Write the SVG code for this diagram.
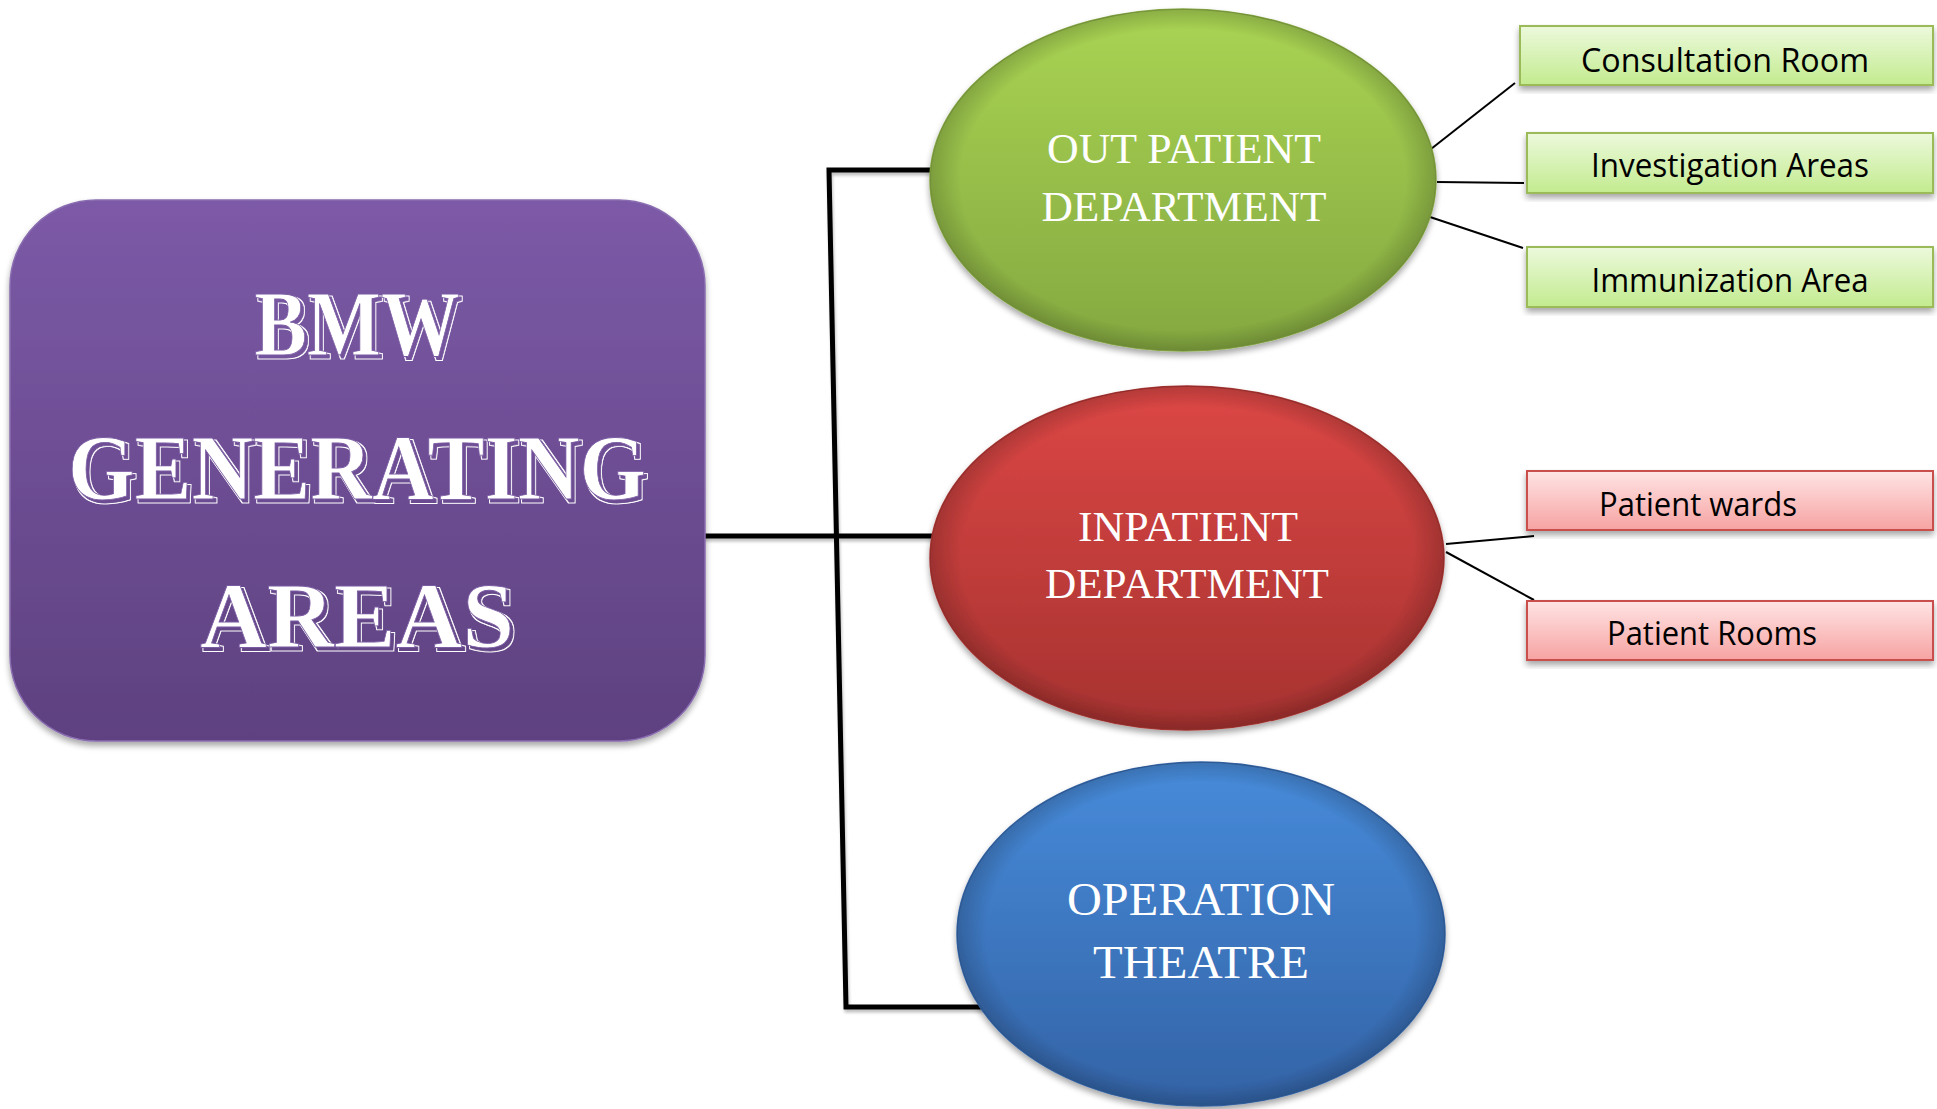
<svg xmlns="http://www.w3.org/2000/svg" width="1937" height="1109" viewBox="0 0 1937 1109">
<style>
.title{font-family:"Liberation Serif","DejaVu Serif",serif;font-size:94px;font-weight:bold;fill:#ffffff;stroke:#7a5aa3;stroke-width:0.8;text-anchor:middle}
.dept{font-family:"Liberation Serif","Times New Roman",serif;fill:#ffffff;text-anchor:middle}
.sub{font-family:"Open Sans","Noto Sans","Liberation Sans",sans-serif;font-size:32px;fill:#000000}
.trunk{stroke:#000;stroke-width:5;fill:none;stroke-linecap:square}
.twig{stroke:#000;stroke-width:2;fill:none}
.gbox{fill:url(#gBox);stroke:#9bbb59;stroke-width:2}
.rbox{fill:url(#rBox);stroke:#c9504d;stroke-width:2}
</style>
<defs>
<linearGradient id="purple" x1="0" y1="0" x2="0" y2="1">
<stop offset="0" stop-color="#7c5aa7"/><stop offset="1" stop-color="#5e4180"/>
</linearGradient>
<linearGradient id="green" x1="0" y1="0" x2="0" y2="1">
<stop offset="0" stop-color="#a9d453"/><stop offset="1" stop-color="#84a840"/>
</linearGradient>
<linearGradient id="red" x1="0" y1="0" x2="0" y2="1">
<stop offset="0" stop-color="#dc4745"/><stop offset="1" stop-color="#a63230"/>
</linearGradient>
<linearGradient id="blue" x1="0" y1="0" x2="0" y2="1">
<stop offset="0" stop-color="#478bda"/><stop offset="1" stop-color="#3363a6"/>
</linearGradient>
<radialGradient id="rim" cx="0.5" cy="0.5" r="0.5">
<stop offset="0.88" stop-color="#000" stop-opacity="0"/>
<stop offset="1" stop-color="#000" stop-opacity="0.18"/>
</radialGradient>
<linearGradient id="gBox" x1="0" y1="0" x2="0" y2="1">
<stop offset="0" stop-color="#ecf9dc"/><stop offset="1" stop-color="#c3eb8f"/>
</linearGradient>
<linearGradient id="rBox" x1="0" y1="0" x2="0" y2="1">
<stop offset="0" stop-color="#ffe4e4"/><stop offset="1" stop-color="#f6a3a2"/>
</linearGradient>
<filter id="shadow" x="-10%" y="-10%" width="120%" height="125%">
<feGaussianBlur in="SourceAlpha" stdDeviation="3"/>
<feOffset dx="0" dy="4" result="b"/>
<feComponentTransfer><feFuncA type="linear" slope="0.35"/></feComponentTransfer>
<feMerge><feMergeNode/><feMergeNode in="SourceGraphic"/></feMerge>
</filter>
<filter id="lineShadow" x="-5%" y="-5%" width="110%" height="110%">
<feGaussianBlur in="SourceAlpha" stdDeviation="1.5"/>
<feOffset dx="1" dy="3"/>
<feComponentTransfer><feFuncA type="linear" slope="0.25"/></feComponentTransfer>
<feMerge><feMergeNode/><feMergeNode in="SourceGraphic"/></feMerge>
</filter>
<filter id="engrave" x="-5%" y="-10%" width="110%" height="130%">
<feOffset in="SourceAlpha" dx="3" dy="3" result="off"/>
<feMorphology in="off" operator="dilate" radius="1.3" result="dil"/>
<feComposite in="dil" in2="off" operator="out" result="ring"/>
<feFlood flood-color="#ffffff"/>
<feComposite in2="ring" operator="in" result="ringW"/>
<feMerge><feMergeNode in="ringW"/><feMergeNode in="SourceGraphic"/></feMerge>
</filter>
</defs>
<rect width="1937" height="1109" fill="#ffffff"/>

<g id="connectors">
<g filter="url(#lineShadow)">
<polyline class="trunk" points="932,170 829,170 846,1007 982,1007"/>
<line class="trunk" x1="705" y1="536" x2="931" y2="536"/>
</g>
<line class="twig" x1="1431" y1="149" x2="1515" y2="83"/>
<line class="twig" x1="1437" y1="182" x2="1524" y2="183"/>
<line class="twig" x1="1430" y1="217" x2="1523" y2="248"/>
<line class="twig" x1="1446" y1="544" x2="1534" y2="536"/>
<line class="twig" x1="1446" y1="552" x2="1534" y2="600"/>
</g>

<g id="bmw">
<rect x="10" y="200" width="695" height="541" rx="86" ry="86" fill="url(#purple)" stroke="#8a6db0" stroke-width="1.5" filter="url(#shadow)"/>
<g filter="url(#engrave)">
<text class="title" x="357" y="355" textLength="205" lengthAdjust="spacingAndGlyphs">BMW</text>
<text class="title" x="357" y="499" textLength="578" lengthAdjust="spacingAndGlyphs">GENERATING</text>
<text class="title" x="357" y="647" textLength="314" lengthAdjust="spacingAndGlyphs">AREAS</text>
</g>
</g>

<g id="opd">
<g filter="url(#shadow)">
<ellipse cx="1183" cy="180" rx="253" ry="171" fill="url(#green)" stroke="#86a844" stroke-width="1.5"/>
<ellipse cx="1183" cy="180" rx="253" ry="171" fill="url(#rim)"/>
</g>
<text class="dept" x="1184" y="163" font-size="42" textLength="274" lengthAdjust="spacingAndGlyphs">OUT PATIENT</text>
<text class="dept" x="1184" y="221" font-size="42" textLength="285" lengthAdjust="spacingAndGlyphs">DEPARTMENT</text>
</g>

<g id="ipd">
<g filter="url(#shadow)">
<ellipse cx="1187" cy="558" rx="257" ry="172" fill="url(#red)" stroke="#a83432" stroke-width="1.5"/>
<ellipse cx="1187" cy="558" rx="257" ry="172" fill="url(#rim)"/>
</g>
<text class="dept" x="1188" y="541" font-size="42" textLength="220" lengthAdjust="spacingAndGlyphs">INPATIENT</text>
<text class="dept" x="1187" y="598" font-size="42" textLength="284" lengthAdjust="spacingAndGlyphs">DEPARTMENT</text>
</g>

<g id="ot">
<g filter="url(#shadow)">
<ellipse cx="1201" cy="934" rx="244" ry="172" fill="url(#blue)" stroke="#3464a6" stroke-width="1.5"/>
<ellipse cx="1201" cy="934" rx="244" ry="172" fill="url(#rim)"/>
</g>
<text class="dept" x="1201" y="915" font-size="47" textLength="268" lengthAdjust="spacingAndGlyphs">OPERATION</text>
<text class="dept" x="1201" y="978" font-size="47" textLength="216" lengthAdjust="spacingAndGlyphs">THEATRE</text>
</g>

<g id="consultation">
<rect class="gbox" x="1520" y="26" width="413" height="59" filter="url(#shadow)"/>
<text class="sub" x="1725" y="72" text-anchor="middle" textLength="288" lengthAdjust="spacingAndGlyphs">Consultation Room</text>
</g>
<g id="investigation">
<rect class="gbox" x="1527" y="133" width="406" height="60" filter="url(#shadow)"/>
<text class="sub" x="1730" y="177" text-anchor="middle" textLength="278" lengthAdjust="spacingAndGlyphs">Investigation Areas</text>
</g>
<g id="immunization">
<rect class="gbox" x="1527" y="247" width="406" height="60" filter="url(#shadow)"/>
<text class="sub" x="1730" y="292" text-anchor="middle" textLength="277" lengthAdjust="spacingAndGlyphs">Immunization Area</text>
</g>
<g id="wards">
<rect class="rbox" x="1527" y="471" width="406" height="59" filter="url(#shadow)"/>
<text class="sub" x="1599" y="516" textLength="198" lengthAdjust="spacingAndGlyphs">Patient wards</text>
</g>
<g id="rooms">
<rect class="rbox" x="1527" y="601" width="406" height="59" filter="url(#shadow)"/>
<text class="sub" x="1607" y="645" textLength="210" lengthAdjust="spacingAndGlyphs">Patient Rooms</text>
</g>
</svg>
